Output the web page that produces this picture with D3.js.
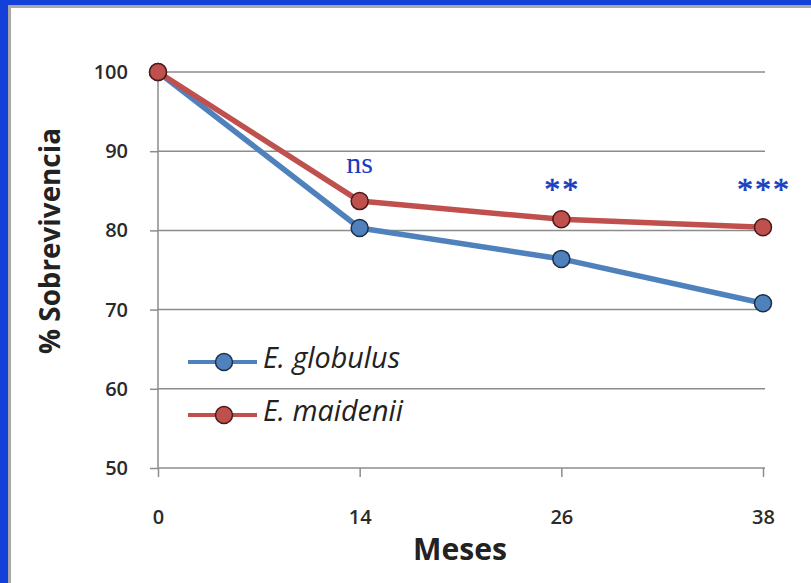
<!DOCTYPE html>
<html><head><meta charset="utf-8">
<script src="https://cdn.jsdelivr.net/npm/d3@7"></script>
<style>body{margin:0;background:#fff}svg{display:block}</style>
</head><body>
<script>
const months = ["0", "14", "26", "38"];
const globulus = [100, 80.3, 76.4, 70.8];
const maidenii = [100, 83.7, 81.4, 80.4];
const yTicks = [50, 60, 70, 80, 90, 100];
const signif = ["", "ns", "**", "***"];
const seriesNames = ["E. globulus", "E. maidenii"];

const W = 811, H = 583;
const svg = d3.select("body").append("svg").attr("width", W).attr("height", H);

// fit a text node's font-size so that its width matches a target
function fitWidth(sel, target) {
  sel.each(function() {
    const len = this.getComputedTextLength();
    const fs = parseFloat(d3.select(this).attr("font-size"));
    if (len > 0) d3.select(this).attr("font-size", (fs * target / len).toFixed(2));
  });
}

// frame
svg.append("rect").attr("x",0).attr("y",0).attr("width",W).attr("height",H).attr("fill","#1240d8");
svg.append("rect").attr("x",8).attr("y",5).attr("width",W-8).attr("height",H-5).attr("fill","#a8a8a8");
svg.append("rect").attr("x",11).attr("y",8).attr("width",W-11).attr("height",H-8).attr("fill","#fff");

const x = d3.scalePoint().domain(months).range([158, 763]);
const y = d3.scaleLinear().domain([50, 100]).range([468, 72]);

// gridlines
svg.append("g").selectAll("line").data(yTicks.filter(d => d > 50)).join("line")
  .attr("x1", 158).attr("x2", 765).attr("y1", d => y(d)).attr("y2", d => y(d))
  .attr("stroke", "#8c8c8c").attr("stroke-width", 1.5);

const font = "'Open Sans', Lato, sans-serif";

// y axis
const ya = svg.append("g").attr("transform", "translate(158,0)")
  .call(d3.axisLeft(y).tickValues(yTicks).tickSize(8).tickPadding(22).tickFormat(d3.format("d")));
ya.select(".domain").attr("stroke", "#8c8c8c").attr("stroke-width", 1.5).attr("d", `M-8,${y(100)}H0V${y(50)}`);
ya.selectAll(".tick line").attr("stroke", "#8c8c8c").attr("stroke-width", 1.5);
ya.selectAll("text").attr("font-family", font).attr("font-size", 20).attr("font-weight", 600).attr("fill", "#2a2a2a");

// x axis
const xa = svg.append("g").attr("transform", "translate(0,468)")
  .call(d3.axisBottom(x).tickSize(9).tickPadding(33));
xa.select(".domain").attr("stroke", "#8c8c8c").attr("stroke-width", 1.5).attr("d", `M158,0H765`);
xa.selectAll(".tick line").attr("stroke", "#8c8c8c").attr("stroke-width", 1.5);
xa.selectAll("text").attr("font-family", font).attr("font-size", 20).attr("font-weight", 600).attr("fill", "#2a2a2a");

// axis titles
svg.append("text").attr("x", 460).attr("y", 560).attr("text-anchor", "middle")
  .attr("font-family", font).attr("font-size", 30).attr("font-weight", 700).attr("fill", "#222").text("Meses")
  .call(fitWidth, 94);
svg.append("text").attr("transform", "translate(60,241) rotate(-90)").attr("text-anchor", "middle")
  .attr("font-family", font).attr("font-size", 26).attr("font-weight", 700).attr("fill", "#222").text("% Sobrevivencia")
  .call(fitWidth, 226);

const series = [
  {name: seriesNames[0], vals: globulus, color: "#4f81bd", stroke: "#1e2f48"},
  {name: seriesNames[1], vals: maidenii, color: "#c0504d", stroke: "#4a1a1a"}
];
const line = d3.line().x((d, i) => x(months[i])).y(d => y(d));

series.forEach(s => {
  svg.append("path").datum(s.vals).attr("d", line).attr("fill", "none")
    .attr("stroke", s.color).attr("stroke-width", 5.5).attr("stroke-linejoin", "round");
});
series.forEach(s => {
  svg.append("g").selectAll("circle").data(s.vals).join("circle")
    .attr("cx", (d, i) => x(months[i])).attr("cy", d => y(d)).attr("r", 8.5)
    .attr("fill", s.color).attr("stroke", s.stroke).attr("stroke-width", 1.5);
});

// significance labels
svg.append("g").selectAll("text").data(signif).join("text")
  .attr("x", (d, i) => x(months[i]) + (d === "ns" ? 0 : 1))
  .attr("y", d => d === "ns" ? 173 : 200)
  .attr("text-anchor", "middle")
  .attr("font-family", "'Liberation Serif', serif")
  .attr("font-size", d => d === "ns" ? 30 : 32)
  .attr("letter-spacing", d => d === "ns" ? 0 : 2)
  .attr("fill", "#1a3cc0")
  .attr("stroke", d => d === "ns" ? "none" : "#1a3cc0").attr("stroke-width", 0.6)
  .text(d => d);

// legend
series.forEach((s, i) => {
  const ly = 362 + i * 53;
  svg.append("line").attr("x1", 188).attr("x2", 257).attr("y1", ly).attr("y2", ly)
    .attr("stroke", s.color).attr("stroke-width", 4);
  svg.append("circle").attr("cx", 224).attr("cy", ly).attr("r", 8.5)
    .attr("fill", s.color).attr("stroke", s.stroke).attr("stroke-width", 1.5);
  svg.append("text").attr("x", 263).attr("y", ly + 6).attr("font-family", font)
    .attr("font-style", "italic").attr("font-size", 22).attr("fill", "#222").text(s.name)
    .call(fitWidth, i === 0 ? 137 : 140);
});
</script>
</body></html>
